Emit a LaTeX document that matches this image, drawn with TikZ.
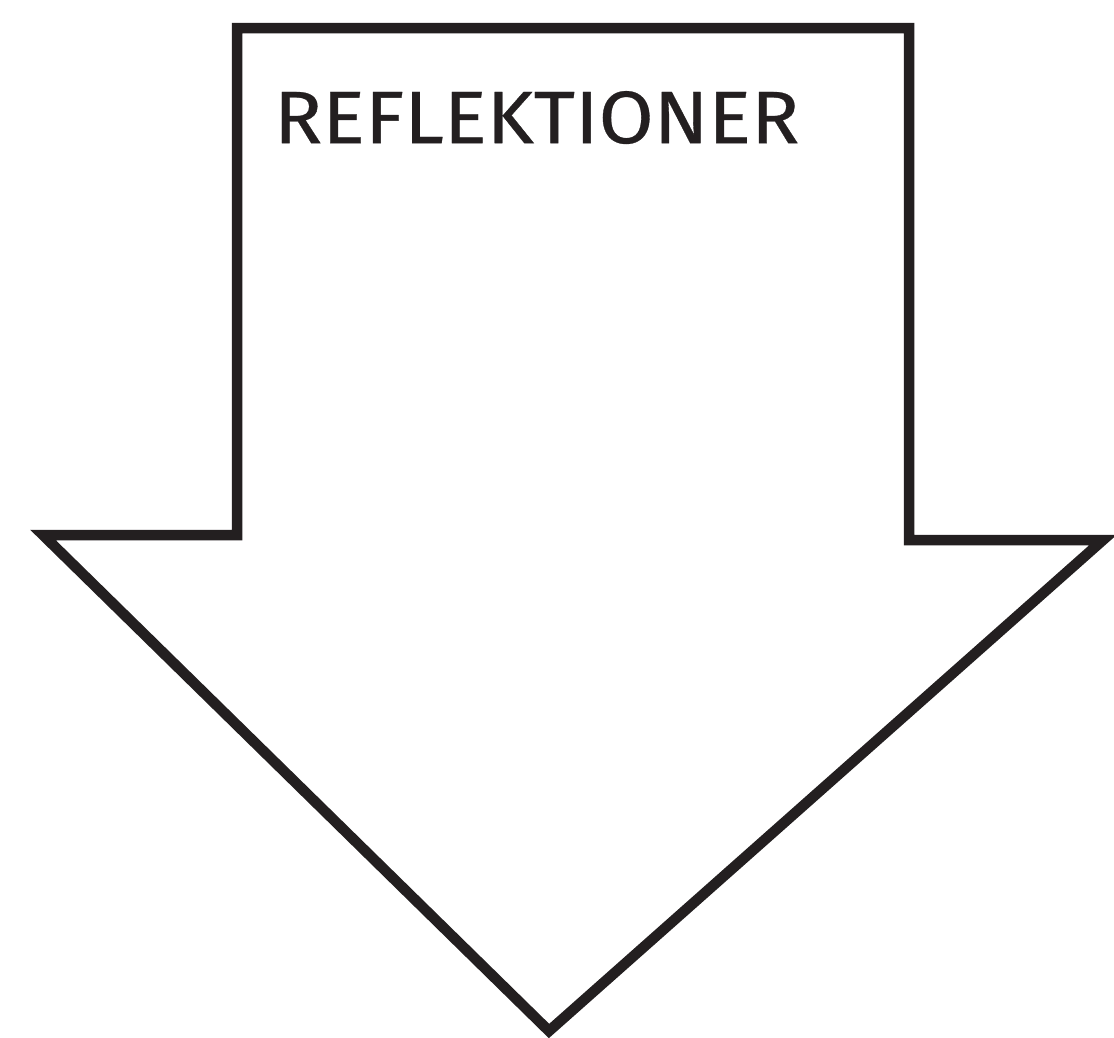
\documentclass[tikz,border=0pt]{standalone}
\usepackage{fontspec}
\setmainfont{Fira Sans}[FakeBold=0.4]
\definecolor{ink}{HTML}{231F20}
\begin{document}
\begin{tikzpicture}[x=1pt,y=-1pt,
  arrowline/.style={draw=ink,line width=10.5pt,line join=miter,fill=white},
  label/.style={inner sep=0pt,outer sep=0pt,text=ink,anchor=south west}]
\useasboundingbox (0,0) rectangle (1114,1037);
\fill[white] (0,0) rectangle (1114,1037);
\coordinate (tl) at (237,28);
\coordinate (tr) at (909,28);
\coordinate (rs) at (909,540);
\coordinate (rc) at (1103,540);
\coordinate (tip) at (549,1031);
\coordinate (lc) at (43,535);
\coordinate (ls) at (237,535);
\draw[arrowline] (tl) -- (tr) -- (rs) -- (rc) -- (tip) -- (lc) -- (ls) -- cycle;
\node[label] (title) at (274,144) {\resizebox{525pt}{52pt}{REFLEKTIONER}};
\end{tikzpicture}
\end{document}
